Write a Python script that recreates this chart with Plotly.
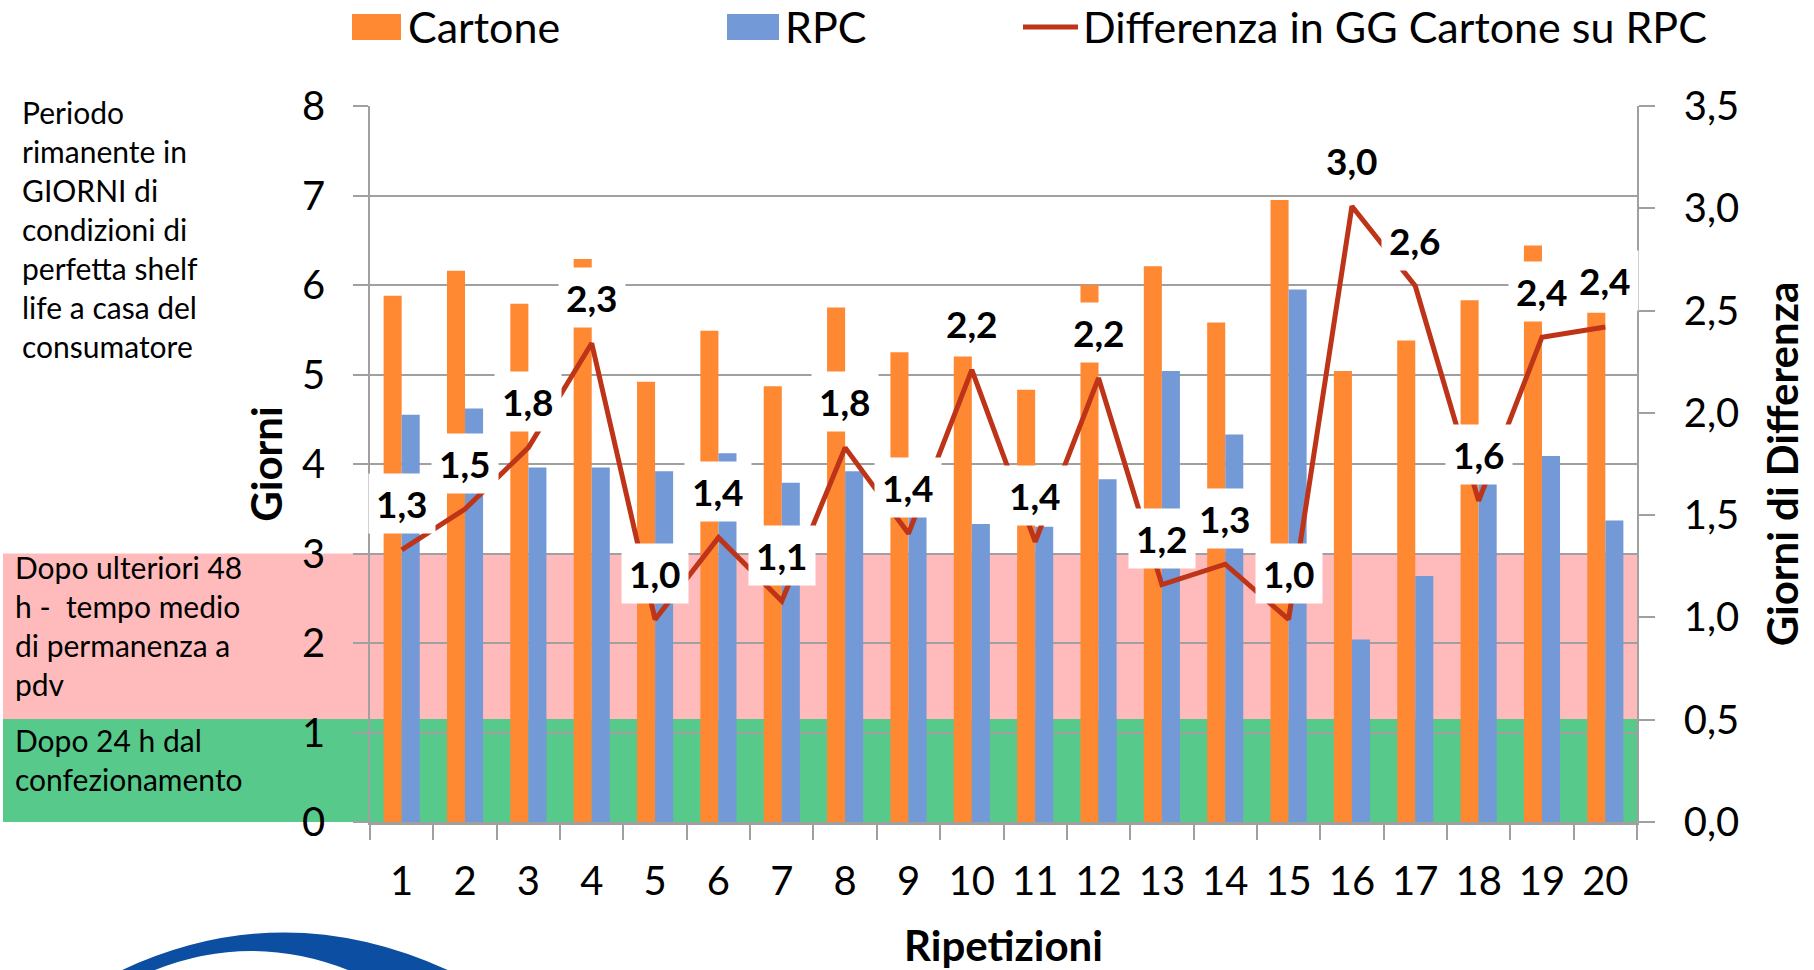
import plotly.graph_objects as go

# ---------------- data ----------------
categories = ["1", "2", "3", "4", "5", "6", "7", "8", "9", "10",
              "11", "12", "13", "14", "15", "16", "17", "18", "19", "20"]
cartone = [5.88, 6.16, 5.79, 6.29, 4.92, 5.49, 4.87, 5.75, 5.25, 5.20,
           4.83, 6.00, 6.21, 5.58, 6.95, 5.04, 5.38, 5.83, 6.44, 5.69]
rpc = [4.55, 4.62, 3.96, 3.96, 3.92, 4.12, 3.79, 3.92, 3.41, 3.33,
       3.30, 3.83, 5.04, 4.33, 5.95, 2.04, 2.75, 3.79, 4.09, 3.37]
differenza = [1.33, 1.53, 1.83, 2.34, 0.99, 1.39, 1.08, 1.83, 1.41, 2.21,
              1.37, 2.17, 1.16, 1.26, 0.99, 3.01, 2.62, 1.57, 2.37, 2.42]
series_names = ["Cartone", "RPC", "Differenza in GG Cartone su RPC"]
band_green = [-0.035, 1.15]   # "Dopo 24 h dal confezionamento"
band_pink = [1.15, 3.0]       # "Dopo ulteriori 48 h"
left_notes = [
    "Periodo<br>rimanente in<br>GIORNI di<br>condizioni di<br>perfetta shelf<br>life a casa del<br>consumatore",
    "Dopo ulteriori 48<br>h -  tempo medio<br>di permanenza a<br>pdv",
    "Dopo 24 h dal<br>confezionamento",
]

# ---------------- styling ----------------
W, H = 1814, 970
PL, PR, PT, PB = 370, 1637, 106, 822  # plot area in pixels
FONT = "Lato"
ORANGE = "#FF8833"
BLUE = "#7399D6"
RED = "#BE3418"
GRID = "#A0A0A0"


def px(x):
    return (x - PL) / (PR - PL)


def py(y):
    return (PB - y) / (PB - PT)


fig = go.Figure()
fig.add_trace(go.Bar(x=categories, y=cartone, name=series_names[0],
                     marker=dict(color=ORANGE, line=dict(width=0)), yaxis="y"))
fig.add_trace(go.Bar(x=categories, y=rpc, name=series_names[1],
                     marker=dict(color=BLUE, line=dict(width=0)), yaxis="y"))
fig.add_trace(go.Scatter(x=categories, y=differenza, name=series_names[2],
                         mode="lines", line=dict(color=RED, width=5), yaxis="y2"))

shapes = []
# background bands (extend left beyond the plot area)
shapes.append(dict(type="rect", xref="paper", yref="y", x0=px(3), x1=1.0,
                   y0=band_pink[0], y1=band_pink[1], fillcolor="#FFBBBB",
                   line=dict(width=0), layer="below"))
shapes.append(dict(type="rect", xref="paper", yref="y", x0=px(3), x1=1.0,
                   y0=band_green[0], y1=band_green[1], fillcolor="#57C98B",
                   line=dict(width=0), layer="below"))

# manual legend
shapes.append(dict(type="rect", xref="paper", yref="paper", x0=px(352), x1=px(401),
                   y0=py(40), y1=py(14), fillcolor=ORANGE, line=dict(width=0)))
shapes.append(dict(type="rect", xref="paper", yref="paper", x0=px(727), x1=px(779),
                   y0=py(40), y1=py(14), fillcolor=BLUE, line=dict(width=0)))
shapes.append(dict(type="line", xref="paper", yref="paper", x0=px(1023), x1=px(1078),
                   y0=py(27), y1=py(27), line=dict(color=RED, width=5)))


# partial logo arc at bottom-left
def P(x, y):
    return f"{px(x):.5f},{py(y):.5f}"


logo_path = ("M " + P(118, 972) + " Q " + P(283, 893) + " " + P(452, 972)
             + " L " + P(353, 972) + " Q " + P(251, 930) + " " + P(150, 972) + " Z")
shapes.append(dict(type="path", xref="paper", yref="paper", path=logo_path,
                   fillcolor="#0B4EA2", line=dict(width=0)))

annotations = []
legend_font = dict(family=FONT, size=43, color="#000000")
for x0, txt in [(406, series_names[0]), (783, series_names[1]), (1081, series_names[2])]:
    annotations.append(dict(xref="paper", yref="paper", x=px(x0), y=py(27),
                            xanchor="left", yanchor="middle", text=txt,
                            showarrow=False, font=legend_font))

# data labels (category index positions)
for i, v in enumerate(differenza):
    annotations.append(dict(x=i, y=v, xref="x", yref="y2", yshift=46,
                            text="<b>" + f"{v:.1f}".replace(".", ",") + "</b>",
                            showarrow=False, bgcolor="#FFFFFF", borderpad=7,
                            font=dict(family=FONT, size=37, color="#000000"),
                            xanchor="center", yanchor="middle"))

# left side notes
note_font = dict(family=FONT, size=30, color="#000000")
annotations.append(dict(xref="paper", yref="paper", x=px(20), y=py(92), xanchor="left",
                        yanchor="top", align="left", text=left_notes[0],
                        showarrow=False, font=note_font))
annotations.append(dict(xref="paper", yref="paper", x=px(13), y=py(547), xanchor="left",
                        yanchor="top", align="left", text=left_notes[1],
                        showarrow=False, font=note_font))
annotations.append(dict(xref="paper", yref="paper", x=px(13), y=py(720), xanchor="left",
                        yanchor="top", align="left", text=left_notes[2],
                        showarrow=False, font=note_font))

tick_font = dict(family=FONT, size=40, color="#000000")
title_font = dict(family=FONT, size=42, color="#000000")

fig.update_layout(
    width=W, height=H,
    margin=dict(l=PL, r=W - PR, t=PT, b=H - PB, pad=0, autoexpand=False),
    paper_bgcolor="#FFFFFF", plot_bgcolor="rgba(0,0,0,0)",
    barmode="group", bargap=0.43, bargroupgap=0,
    separators=",.",
    showlegend=False,
    shapes=shapes, annotations=annotations,
    font=dict(family=FONT, color="#000000"),
    xaxis=dict(type="category", range=[-0.5, 19.5], tickson="boundaries",
               automargin=False,
               ticks="outside", ticklen=15, tickwidth=1.5, tickcolor=GRID,
               showline=True, linecolor=GRID, linewidth=2.5, showgrid=False,
               tickfont=tick_font, ticklabelstandoff=22,
               title=dict(text="<b>Ripetizioni</b>", font=title_font, standoff=31)),
    yaxis=dict(range=[0, 8], dtick=1, tickformat="d", ticks="outside", ticklen=15,
               automargin=False,
               tickwidth=1.5, tickcolor=GRID, showline=True, linecolor=GRID,
               linewidth=1.5, showgrid=True, gridcolor=GRID, gridwidth=1.5,
               zeroline=False, tickfont=tick_font, ticklabelstandoff=20,
               title=dict(text="<b>Giorni</b>", font=title_font, standoff=6)),
    yaxis2=dict(range=[0, 3.5], dtick=0.5, tickformat=".1f", overlaying="y",
                automargin=False,
                side="right", ticks="outside", ticklen=16, tickwidth=1.5,
                tickcolor=GRID, showline=True, linecolor=GRID, linewidth=1.5,
                showgrid=False, zeroline=False, tickfont=tick_font,
                ticklabelstandoff=21,
                title=dict(text="<b>Giorni di Differenza</b>", font=title_font,
                           standoff=30)),
)

fig.write_html("out.html", config={"displayModeBar": False},
               post_script="document.body.style.margin='0';document.body.style.overflow='hidden';")
